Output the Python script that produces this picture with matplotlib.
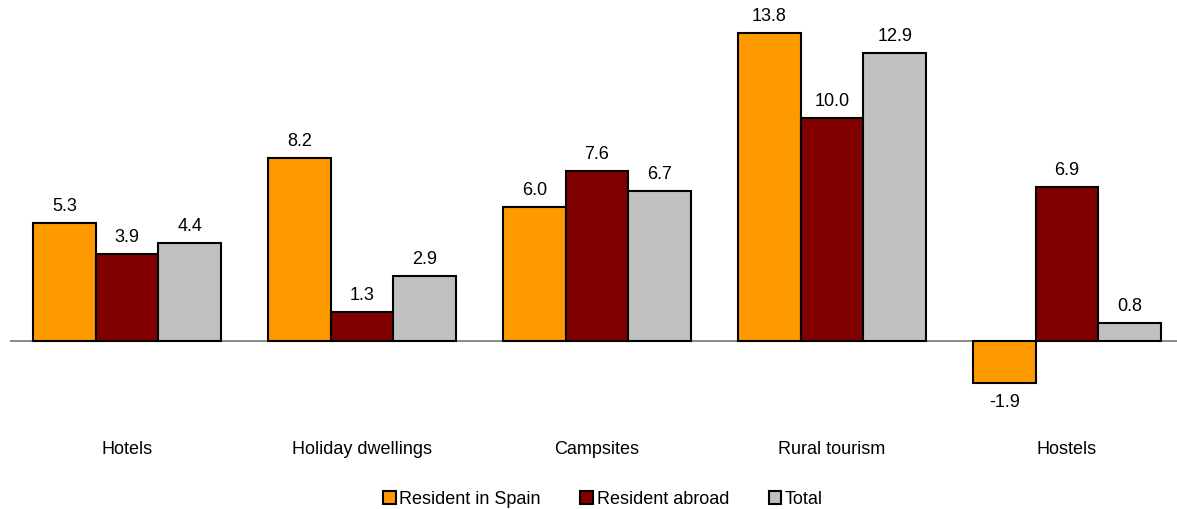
import numpy as np
import matplotlib.pyplot as plt

plt.rcParams['font.family'] = ['Liberation Sans', 'DejaVu Sans']

categories = ["Hotels", "Holiday dwellings", "Campsites", "Rural tourism", "Hostels"]
series_names = ["Resident in Spain", "Resident abroad", "Total"]
resident_spain = [5.3, 8.2, 6.0, 13.8, -1.9]
resident_abroad = [3.9, 1.3, 7.6, 10.0, 6.9]
total = [4.4, 2.9, 6.7, 12.9, 0.8]
colors = ["#FF9900", "#800000", "#C0C0C0"]

W, H = 1177, 509
fig = plt.figure(figsize=(W / 100, H / 100), dpi=100)
# axes in pixel coords: x 9.5..1184.5, y 0..430 (from top)
ax = fig.add_axes([9.5 / W, (H - 430) / H, 1175 / W, 430 / H])

x = np.arange(len(categories))
width = 0.8 / 3
fs = 13
for i, (vals, name, c) in enumerate(zip([resident_spain, resident_abroad, total], series_names, colors)):
    pos = x + (i - 1) * width
    ax.bar(pos, vals, width, color=c, edgecolor="black", linewidth=1.5, label=name, zorder=3)
    for p, v in zip(pos, vals):
        if v >= 0:
            ax.annotate(f"{v:.1f}", (p, v), xytext=(0, 8), textcoords="offset pixels",
                        ha="center", va="bottom", fontsize=fs)
        else:
            ax.annotate(f"{v:.1f}", (p, v), xytext=(0, -11), textcoords="offset pixels",
                        ha="center", va="top", fontsize=fs)

px = 22.32
ax.set_ylim(-(430 - 341) / px, 341 / px)
ax.set_xlim(-0.5, 4.5)
ax.axhline(0, color="#808080", linewidth=1.3, zorder=2)

ax.set_xticks(x)
ax.set_xticklabels(categories, fontsize=fs)
ax.tick_params(axis="x", length=0, pad=8)
ax.set_yticks([])
for s in ax.spines.values():
    s.set_visible(False)

ax.legend(loc="center", bbox_to_anchor=(603 / W, 1 - 499 / H), bbox_transform=fig.transFigure,
          ncol=3, frameon=False, fontsize=fs, handlelength=0.7, handleheight=0.7,
          handletextpad=0.2, columnspacing=2.2)

fig.savefig("out.png", dpi=100)
